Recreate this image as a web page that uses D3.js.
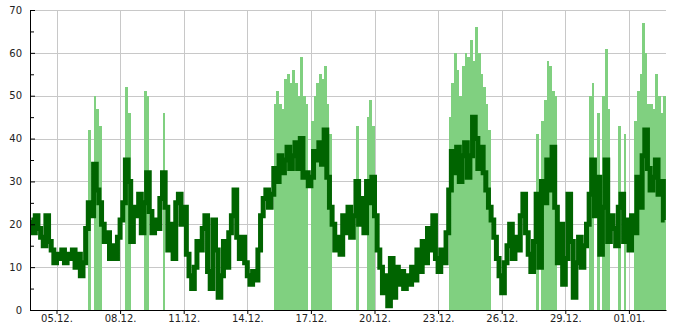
<!DOCTYPE html>
<html>
<head>
<meta charset="utf-8">
<script src="https://cdn.jsdelivr.net/npm/d3@7"></script>
<style>
    body { margin: 0; background: #fff; }
    text { font-family: "DejaVu Sans", sans-serif; font-size: 10px; fill: #222; }
</style>
</head>
<body>
<div id="chart"></div>
<script>
// Series start and step (one value every 3 hours)
const startTime = new Date(2023, 11, 3, 18);
const endTime = new Date(2024, 0, 2, 18);
const stepHours = 3;

// Dark green series (line)
const lineValues = [
    21, 18, 22, 19, 17, 15, 22, 16, 14, 11, 13, 12, 14, 11, 13, 12,
    14, 10, 13, 8, 11, 19, 25, 22, 34, 28, 25, 20, 16, 18, 12, 15,
    12, 17, 21, 25, 35, 30, 16, 24, 22, 27, 18, 25, 32, 23, 18, 21,
    19, 26, 32, 24, 14, 20, 12, 25, 27, 20, 24, 13, 8, 5, 10, 16,
    14, 19, 22, 9, 5, 21, 14, 3, 8, 16, 10, 18, 22, 28, 17, 12,
    17, 11, 8, 6, 9, 7, 14, 22, 26, 28, 24, 27, 33, 30, 36, 32,
    35, 38, 33, 36, 39, 33, 40, 31, 32, 29, 31, 37, 35, 39, 34, 42,
    31, 24, 20, 14, 17, 13, 22, 18, 24, 17, 22, 30, 20, 26, 18, 30,
    25, 31, 22, 14, 10, 4, 8, 1, 12, 3, 10, 6, 9, 5, 8, 6,
    10, 7, 14, 9, 16, 11, 19, 14, 22, 12, 9, 14, 11, 18, 28, 37,
    32, 38, 30, 36, 39, 31, 36, 45, 40, 33, 38, 32, 28, 24, 21, 17,
    12, 8, 4, 11, 15, 20, 12, 17, 14, 22, 27, 18, 13, 9, 16, 27,
    10, 30, 25, 35, 28, 38, 24, 11, 20, 6, 12, 27, 16, 3, 11, 17,
    10, 15, 20, 27, 35, 22, 31, 13, 24, 35, 16, 22, 19, 15, 24, 27,
    16, 21, 14, 22, 18, 31, 24, 36, 42, 33, 28, 31, 35, 27, 30, 21
];

// Light green series (bars)
const barValues = [
    0, 0, 0, 0, 0, 0, 0, 0, 0, 0,
    0, 0, 0, 0, 0, 0, 0, 0, 0, 0,
    0, 0, 42, 0, 50, 47, 43, 0, 0, 0,
    0, 0, 0, 0, 0, 0, 52, 46, 0, 0,
    0, 0, 0, 51, 50, 0, 0, 0, 0, 0,
    46, 0, 0, 0, 0, 0, 0, 0, 0, 0,
    0, 0, 0, 0, 0, 0, 0, 0, 0, 0,
    0, 0, 0, 0, 0, 0, 0, 0, 0, 0,
    0, 0, 0, 0, 0, 0, 0, 0, 0, 0,
    0, 0, 48, 51, 48, 47, 54, 55, 53, 56,
    53, 50, 59, 50, 48, 0, 44, 50, 53, 55,
    54, 57, 48, 41, 0, 0, 0, 0, 0, 0,
    0, 0, 0, 43, 0, 0, 0, 45, 49, 43,
    0, 0, 0, 0, 0, 0, 0, 0, 0, 0,
    0, 0, 0, 0, 0, 0, 0, 0, 0, 0,
    0, 0, 0, 0, 0, 0, 0, 0, 45, 53,
    60, 56, 50, 57, 60, 59, 63, 58, 66, 60,
    55, 52, 48, 42, 0, 0, 0, 0, 0, 0,
    0, 0, 0, 0, 0, 0, 0, 0, 0, 0,
    0, 41, 0, 44, 49, 58, 57, 51, 50, 0,
    0, 0, 0, 0, 0, 0, 0, 0, 0, 0,
    0, 50, 53, 0, 46, 0, 50, 61, 47, 0,
    0, 0, 43, 0, 41, 0, 0, 0, 44, 51,
    55, 67, 60, 48, 48, 47, 55, 50, 46, 50
];

// Axis ticks
const xTickDates = ["2023-12-05", "2023-12-08", "2023-12-11", "2023-12-14", "2023-12-17",
    "2023-12-20", "2023-12-23", "2023-12-26", "2023-12-29", "2024-01-01"];
const xTickLabels = ["05.12.", "08.12.", "11.12.", "14.12.", "17.12.",
    "20.12.", "23.12.", "26.12.", "29.12.", "01.01."];
const yTicks = [0, 10, 20, 30, 40, 50, 60, 70];
const yMinorTicks = [5, 15, 25, 35, 45, 55, 65];

// Layout
const chartWidth = 685, chartHeight = 330;
const plotLeft = 30, plotRight = 666, plotTop = 10, plotBottom = 310;

const parseDay = d3.timeParse("%Y-%m-%d");
const tickDates = xTickDates.map(parseDay);

const x = d3.scaleTime().domain([startTime, endTime]).range([plotLeft, plotRight]);
const y = d3.scaleLinear().domain([0, 70]).range([plotBottom, plotTop]);

// Time of bin i (fractional i allowed)
const timeAt = (i) => new Date(startTime.getTime() + i * stepHours * 3600 * 1000);

let svg = d3.select("#chart")
    .append("svg")
    .attr("width", chartWidth)
    .attr("height", chartHeight);

svg.append("defs").append("clipPath")
    .attr("id", "plot-clip")
    .append("rect")
    .attr("x", 0).attr("y", 0)
    .attr("width", chartWidth).attr("height", plotBottom);

// Gridlines
svg.append("g")
    .selectAll("line")
    .data(yTicks.filter(v => v > 0))
    .enter()
    .append("line")
    .attr("x1", plotLeft).attr("x2", plotRight)
    .attr("y1", d => Math.round(y(d)) + 0.5).attr("y2", d => Math.round(y(d)) + 0.5)
    .attr("stroke", "#c8c8c8");

svg.append("g")
    .selectAll("line")
    .data(tickDates)
    .enter()
    .append("line")
    .attr("x1", d => Math.round(x(d)) + 0.5).attr("x2", d => Math.round(x(d)) + 0.5)
    .attr("y1", plotTop).attr("y2", plotBottom)
    .attr("stroke", "#c8c8c8");

// Light green bars
svg.append("g")
    .selectAll("rect")
    .data(barValues.map((v, i) => ({ i: i, v: v })).filter(d => d.v > 0))
    .enter()
    .append("rect")
    .attr("x", d => x(timeAt(d.i)))
    .attr("width", d => x(timeAt(d.i + 1)) - x(timeAt(d.i)))
    .attr("y", d => y(d.v))
    .attr("height", d => y(0) - y(d.v))
    .attr("fill", "#80d080")
    .attr("shape-rendering", "crispEdges");

// Dark green line, stepped at bin centres
let line = d3.line()
    .x((d, i) => x(timeAt(i + 0.5)))
    .y(d => y(d))
    .curve(d3.curveStep);

svg.append("path")
    .datum(lineValues)
    .attr("clip-path", "url(#plot-clip)")
    .attr("d", line)
    .attr("fill", "none")
    .attr("stroke", "#006400")
    .attr("stroke-width", 5)
    .attr("stroke-linejoin", "miter")
    .attr("stroke-linecap", "butt");

// Axes
let xAxis = d3.axisBottom(x)
    .tickValues(tickDates)
    .tickFormat((d, i) => xTickLabels[i])
    .tickSize(4)
    .tickSizeOuter(0)
    .tickPadding(1);

svg.append("g")
    .attr("transform", `translate(0,${plotBottom})`)
    .call(xAxis)
    .call(g => g.selectAll("text").style("font-size", "10px").attr("fill", "#222"))
    .call(g => g.selectAll("path, line").attr("stroke", "#000"));

let yAxis = d3.axisLeft(y)
    .tickValues(yTicks)
    .tickSize(-5)
    .tickSizeOuter(0)
    .tickPadding(8);

svg.append("g")
    .attr("transform", `translate(${plotLeft},0)`)
    .call(yAxis)
    .call(g => g.selectAll("text").style("font-size", "10px").attr("fill", "#222"))
    .call(g => g.selectAll("path, line").attr("stroke", "#000"));

svg.append("g")
    .attr("transform", `translate(${plotLeft},0)`)
    .call(d3.axisLeft(y).tickValues(yMinorTicks).tickSize(-4).tickFormat(""))
    .call(g => g.select(".domain").remove())
    .call(g => g.selectAll("line").attr("stroke", "#000"));
</script>
</body>
</html>
